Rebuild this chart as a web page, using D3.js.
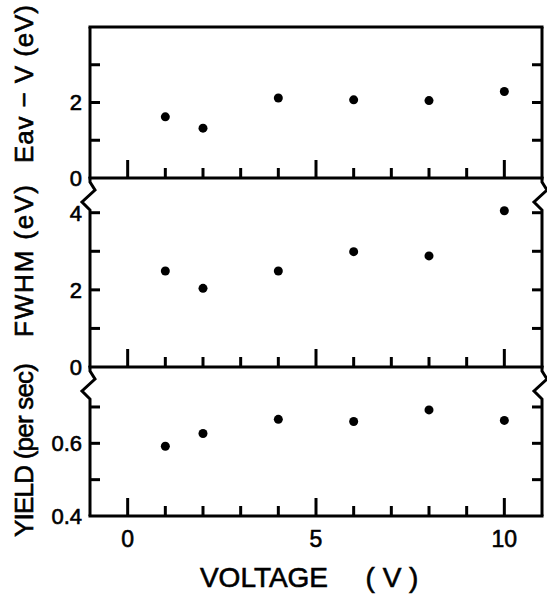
<!DOCTYPE html>
<html lang="en">
<head>
  <meta charset="utf-8" />
  <title>Eav-V, FWHM and Yield vs Voltage</title>
  <script src="https://cdn.jsdelivr.net/npm/d3@7"></script>
  <style>
    body { margin: 0; background: #fff; }
    text { font-family: "Liberation Sans", Arial, sans-serif; fill: #000; stroke: #000; stroke-width: 0.6px; }
  </style>
</head>
<body>
  <script>
    // data
    var voltage = [1, 2, 4, 6, 8, 10];
    var eavMinusV = [1.62, 1.32, 2.12, 2.07, 2.05, 2.29];
    var fwhm = [2.49, 2.04, 2.49, 2.99, 2.88, 4.05];
    var yieldRate = [0.592, 0.627, 0.666, 0.660, 0.692, 0.663];

    var xTickLabels = [0, 5, 10];
    var panelTitles = ["Eav \u2212 V (eV)", "FWHM (eV)", "YIELD (per sec)"];

    var width = 547, height = 594;
    var left = 90, right = 542;

    var svg = d3.select("body").append("svg")
      .attr("width", width).attr("height", height);

    var x = d3.scaleLinear().domain([-1, 11]).range([left, right]);

    // each panel: its own y scale, ticks and labels
    var panels = [
      { values: eavMinusV, y: d3.scaleLinear().domain([0, 4]).range([178, 27]),
        ticks: [1, 2, 3], labels: [0, 2], fmt: d3.format("d"), broken: false,
        title: panelTitles[0], titleY: 84, titleLen: 158 },
      { values: fwhm, y: d3.scaleLinear().domain([0, 4.9]).range([367, 178]),
        ticks: [1, 2, 3, 4], labels: [0, 2, 4], fmt: d3.format("d"), broken: true,
        title: panelTitles[1], titleY: 261, titleLen: 152 },
      { values: yieldRate, y: d3.scaleLinear().domain([0.4, 0.81]).range([516, 367]),
        ticks: [0.5, 0.6, 0.7], labels: [0.4, 0.6], fmt: d3.format(".1f"), broken: true,
        title: panelTitles[2], titleY: 450, titleLen: 174 }
    ];

    var line = d3.line();

    panels.forEach(function(p) {
      var g = svg.append("g");
      var yTop = p.y.range()[1], yBot = p.y.range()[0];

      // side lines, with a break zigzag at the top of the lower panels
      [left, right].forEach(function(sx) {
        var pts;
        if (p.broken) {
          pts = [[sx, yTop - 1], [sx, yTop + 4], [sx + 5, yTop + 12],
                 [sx - 8, yTop + 24], [sx, yTop + 32], [sx, yBot]];
        } else {
          pts = [[sx, yTop], [sx, yBot]];
        }
        g.append("path").attr("d", line(pts))
          .attr("fill", "none").attr("stroke", "#000")
          .attr("stroke-width", 3).attr("stroke-linejoin", "miter");
      });

      // frame top (first panel only) and bottom
      if (!p.broken) {
        g.append("line").attr("x1", left - 1.5).attr("x2", right + 1.5)
          .attr("y1", yTop).attr("y2", yTop)
          .attr("stroke", "#000").attr("stroke-width", 3);
      }
      g.append("line").attr("x1", left - 1.5).attr("x2", right + 1.5)
        .attr("y1", yBot).attr("y2", yBot)
        .attr("stroke", "#000").attr("stroke-width", 3);

      // x ticks pointing up, longer at 0, 5, 10
      g.selectAll(".xt").data(d3.range(0, 11)).enter().append("line")
        .attr("x1", function(d) { return x(d); })
        .attr("x2", function(d) { return x(d); })
        .attr("y1", yBot)
        .attr("y2", function(d) { return yBot - (d % 5 === 0 ? 18 : 10); })
        .attr("stroke", "#000").attr("stroke-width", 3);

      // y ticks on both sides, pointing in
      g.selectAll(".yl").data(p.ticks).enter().append("line")
        .attr("x1", left).attr("x2", left + 10)
        .attr("y1", function(d) { return p.y(d); })
        .attr("y2", function(d) { return p.y(d); })
        .attr("stroke", "#000").attr("stroke-width", 3);
      g.selectAll(".yr").data(p.ticks).enter().append("line")
        .attr("x1", right).attr("x2", right - 10)
        .attr("y1", function(d) { return p.y(d); })
        .attr("y2", function(d) { return p.y(d); })
        .attr("stroke", "#000").attr("stroke-width", 3);

      g.selectAll(".ylab").data(p.labels).enter().append("text")
        .attr("x", 82)
        .attr("y", function(d) { return p.y(d); })
        .attr("dy", "0.36em")
        .attr("text-anchor", "end")
        .attr("font-size", 22)
        .text(function(d) { return p.fmt(d); });

      g.append("text")
        .attr("transform", "translate(33," + p.titleY + ") rotate(-90)")
        .attr("text-anchor", "middle")
        .attr("font-size", 26)
        .attr("textLength", p.titleLen)
        .attr("lengthAdjust", "spacing")
        .text(p.title);

      g.selectAll("circle").data(voltage).enter().append("circle")
        .attr("cx", function(d) { return x(d); })
        .attr("cy", function(d, i) { return p.y(p.values[i]); })
        .attr("r", 4.5)
        .attr("fill", "#000");
    });

    // x tick labels under the bottom panel
    svg.selectAll(".xlab").data(xTickLabels).enter().append("text")
      .attr("x", function(d) { return x(d); })
      .attr("y", 547)
      .attr("text-anchor", "middle")
      .attr("font-size", 23)
      .text(function(d) { return d; });

    svg.append("text").attr("x", 264).attr("y", 587)
      .attr("text-anchor", "middle").attr("font-size", 28)
      .text("VOLTAGE");
    svg.append("text").attr("x", 392).attr("y", 587)
      .attr("text-anchor", "middle").attr("font-size", 28)
      .style("white-space", "pre")
      .text("( V )");
  </script>
</body>
</html>
